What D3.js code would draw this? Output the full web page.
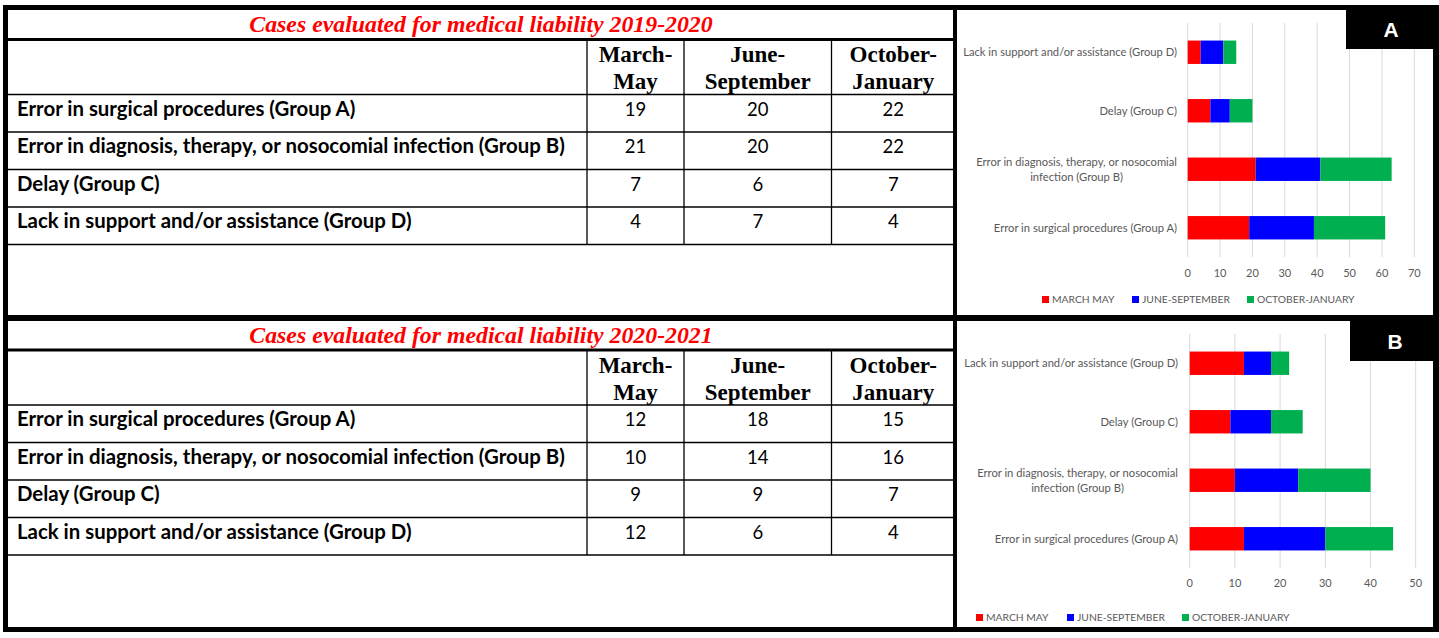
<!DOCTYPE html>
<html>
<head>
<meta charset="utf-8">
<script src="https://cdn.jsdelivr.net/npm/d3@7"></script>
<style>
  html, body { margin: 0; padding: 0; background: #fff; }
  svg { display: block; }
</style>
</head>
<body>
<svg id="fig" width="1439" height="638"></svg>
<script>
// ---------- DATA ----------
const periods = ["March-May", "June-September", "October-January"];
const periodHeaderLines = [["March-", "May"], ["June-", "September"], ["October-", "January"]];
const legendLabels = ["MARCH MAY", "JUNE-SEPTEMBER", "OCTOBER-JANUARY"];
const groups = [
  "Error in surgical procedures (Group A)",
  "Error in diagnosis, therapy, or nosocomial infection (Group B)",
  "Delay (Group C)",
  "Lack in support and/or assistance (Group D)"
];
const chartGroupLines = [
  ["Error in surgical procedures (Group A)"],
  ["Error in diagnosis, therapy, or nosocomial", "infection (Group B)"],
  ["Delay (Group C)"],
  ["Lack in support and/or assistance (Group D)"]
];
const titles = ["Cases evaluated for medical liability 2019-2020", "Cases evaluated for medical liability 2020-2021"];
const panelLetters = ["A", "B"];

const marchMay2019 = [19, 21, 7, 4];
const juneSep2019  = [20, 20, 6, 7];
const octJan2019   = [22, 22, 7, 4];

const marchMay2020 = [12, 10, 9, 12];
const juneSep2020  = [18, 14, 9, 6];
const octJan2020   = [15, 16, 7, 4];

const ticksA = [0, 10, 20, 30, 40, 50, 60, 70];
const ticksB = [0, 10, 20, 30, 40, 50];

const seriesColors = ["#FF0000", "#0000FF", "#00B050"];

// ---------- LAYOUT ----------
const svg = d3.select("#fig");
const W = 1439, H = 638;

const panels = [
  {
    series: [marchMay2019, juneSep2019, octJan2019], ticks: ticksA, title: titles[0], letter: panelLetters[0],
    dy: 0, xr: [1187.7, 1414.3], yr: [23, 257], labelX: 1177, tickY: 277, legY: 299,
    legX: [1042, 1132, 1247], box: [1346, 10, 93, 39]
  },
  {
    series: [marchMay2020, juneSep2020, octJan2020], ticks: ticksB, title: titles[1], letter: panelLetters[1],
    dy: 310.5, xr: [1189.7, 1415.7], yr: [334, 568], labelX: 1178, tickY: 587, legY: 617,
    legX: [976, 1067, 1182], box: [1350, 321, 89, 40]
  }
];

const colX = [8, 587, 684, 831.5, 955];

svg.append("rect").attr("width", W).attr("height", H).attr("fill", "#fff");

panels.forEach(p => {
  const g = svg.append("g");
  const d = p.dy;
  // ---- table ----
  g.append("text")
    .attr("x", 481).attr("y", 32 + d)
    .attr("text-anchor", "middle")
    .attr("font-family", "'Liberation Serif', serif")
    .attr("font-style", "italic").attr("font-weight", "bold")
    .attr("font-size", 23.8).attr("fill", "#FF0000")
    .text(p.title);
  g.append("rect").attr("x", 3).attr("y", 38 + d).attr("width", 953).attr("height", 3).attr("fill", "#000");
  const rowLines = [94.5, 132, 169.5, 207, 244.5];
  rowLines.forEach(y => {
    g.append("line").attr("x1", 5).attr("x2", 955).attr("y1", y + d).attr("y2", y + d)
      .attr("stroke", "#000").attr("stroke-width", 1.3);
  });
  [colX[1], colX[2], colX[3]].forEach(x => {
    g.append("line").attr("x1", x).attr("x2", x).attr("y1", 40 + d).attr("y2", 244.5 + d)
      .attr("stroke", "#000").attr("stroke-width", 1.3);
  });
  periodHeaderLines.forEach((lines, i) => {
    const cx = (colX[i + 1] + colX[i + 2]) / 2;
    lines.forEach((ln, j) => {
      g.append("text").attr("x", cx).attr("y", 62 + j * 27 + d)
        .attr("text-anchor", "middle")
        .attr("font-family", "'Liberation Serif', serif").attr("font-weight", "bold")
        .attr("font-size", 23).attr("fill", "#000").text(ln);
    });
  });
  groups.forEach((gr, r) => {
    const by = 115.5 + r * 37.5 + d;
    g.append("text").attr("x", 17).attr("y", by)
      .attr("font-family", "Lato, sans-serif").attr("font-weight", "bold")
      .attr("font-size", 20.4).attr("fill", "#000").text(gr);
    p.series.forEach((s, i) => {
      const cx = (colX[i + 1] + colX[i + 2]) / 2;
      g.append("text").attr("x", cx).attr("y", by)
        .attr("text-anchor", "middle")
        .attr("font-family", "Lato, sans-serif")
        .attr("font-size", 18.5).attr("fill", "#000").text(s[r]);
    });
  });

  // ---- chart ----
  const x = d3.scaleLinear().domain([0, d3.max(p.ticks)]).range(p.xr);
  const y = d3.scaleBand().domain(groups.slice().reverse()).range(p.yr).paddingInner(0.6).paddingOuter(0.3);

  g.selectAll(".grid").data(p.ticks).join("line")
    .attr("x1", v => x(v)).attr("x2", v => x(v))
    .attr("y1", p.yr[0]).attr("y2", p.yr[1])
    .attr("stroke", "#d9d9d9").attr("stroke-width", 1);
  g.selectAll(".tl").data(p.ticks).join("text")
    .attr("x", v => x(v)).attr("y", p.tickY)
    .attr("text-anchor", "middle")
    .attr("font-family", "Lato, sans-serif").attr("font-size", 11).attr("fill", "#595959")
    .text(v => v);

  const stackRows = groups.map((gr, r) => {
    const o = { group: gr };
    periods.forEach((pe, i) => { o[pe] = p.series[i][r]; });
    return o;
  });
  const stacked = d3.stack().keys(periods)(stackRows);
  stacked.forEach((layer, i) => {
    g.selectAll(null).data(layer).join("rect")
      .attr("x", dd => x(dd[0]))
      .attr("width", dd => x(dd[1]) - x(dd[0]))
      .attr("y", dd => y(dd.data.group))
      .attr("height", y.bandwidth())
      .attr("fill", seriesColors[i]);
  });

  groups.forEach((gr, r) => {
    const lines = chartGroupLines[r];
    const cy = y(gr) + y.bandwidth() / 2;
    const lh = 15;
    const top = cy - (lines.length - 1) * lh / 2;
    let widths = [];
    const texts = lines.map((ln, j) => {
      const t = g.append("text").attr("y", top + j * lh + 4)
        .attr("font-family", "Lato, sans-serif").attr("font-size", 11.2).attr("fill", "#595959")
        .text(ln);
      widths.push(t.node().getComputedTextLength());
      return t;
    });
    const maxW = d3.max(widths);
    texts.forEach(t => {
      t.attr("text-anchor", "middle").attr("x", p.labelX - maxW / 2);
    });
  });

  legendLabels.forEach((lab, i) => {
    g.append("rect").attr("x", p.legX[i]).attr("y", p.legY - 3).attr("width", 7).attr("height", 7)
      .attr("fill", seriesColors[i]);
    g.append("text").attr("x", p.legX[i] + 10).attr("y", p.legY + 4)
      .attr("font-family", "Lato, sans-serif").attr("font-size", 10.3).attr("fill", "#595959")
      .text(lab);
  });

  g.append("rect").attr("x", p.box[0]).attr("y", p.box[1]).attr("width", p.box[2]).attr("height", p.box[3]).attr("fill", "#000");
  g.append("text").attr("x", p.box[0] + 45).attr("y", p.box[1] + p.box[3] / 2 + 7.5)
    .attr("text-anchor", "middle")
    .attr("font-family", "'Liberation Sans', Arial, sans-serif").attr("font-weight", "bold")
    .attr("font-size", 21).attr("fill", "#fff").text(p.letter);
});

// ---------- outer frame / separators ----------
const frame = svg.append("g");
frame.append("rect").attr("x", 3).attr("y", 5).attr("width", 1436).attr("height", 5).attr("fill", "#000");
frame.append("rect").attr("x", 3).attr("y", 627).attr("width", 1436).attr("height", 5).attr("fill", "#000");
frame.append("rect").attr("x", 3).attr("y", 5).attr("width", 5).attr("height", 627).attr("fill", "#000");
frame.append("rect").attr("x", 1433).attr("y", 5).attr("width", 6).attr("height", 627).attr("fill", "#000");
frame.append("rect").attr("x", 953).attr("y", 5).attr("width", 4).attr("height", 627).attr("fill", "#000");
frame.append("rect").attr("x", 3).attr("y", 315).attr("width", 1436).attr("height", 6).attr("fill", "#000");
</script>
</body>
</html>
